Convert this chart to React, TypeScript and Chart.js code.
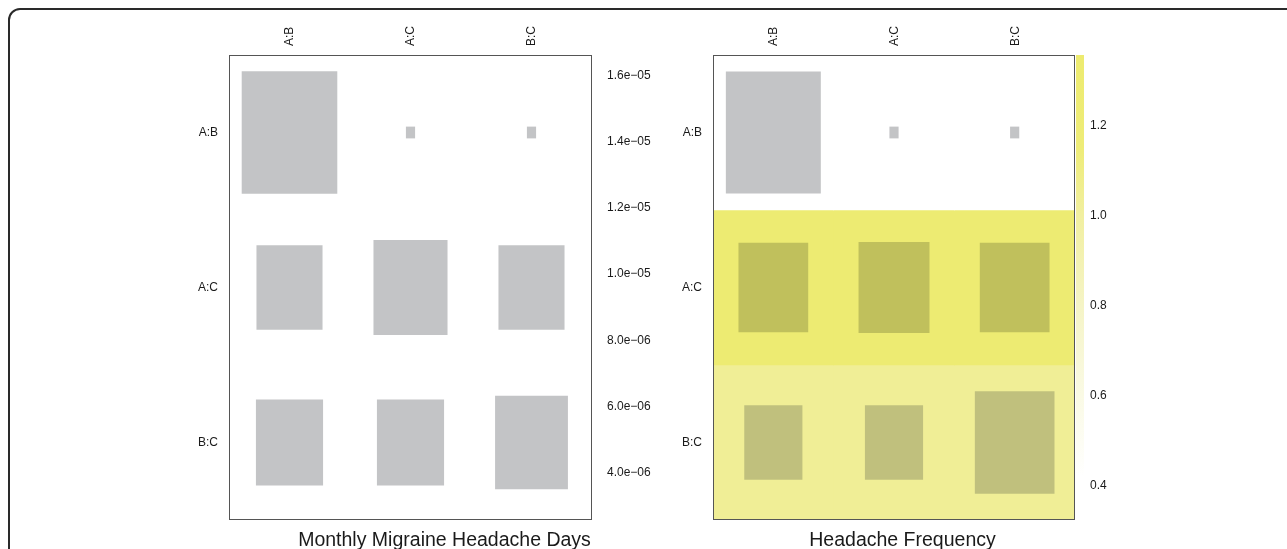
import React, { useEffect, useRef } from 'react';
import { Chart, registerables } from 'chart.js';

Chart.register(...registerables);

// Pairwise comparisons on both axes
const comparisons = ['A:B', 'A:C', 'B:C'];

// Box size per cell, as a fraction of the cell (rows top→bottom, columns left→right)
const mmdBoxSize = [
  [0.79, 0.076, 0.076],
  [0.546, 0.612, 0.546],
  [0.555, 0.555, 0.602],
];
const freqBoxSize = [
  [0.787, 0.076, 0.076],
  [0.578, 0.588, 0.578],
  [0.482, 0.482, 0.66],
];

// Colour-bar scales
const mmdScaleTicks = [4e-6, 6e-6, 8e-6, 1e-5, 1.2e-5, 1.4e-5, 1.6e-5];
const mmdScaleLabels = ['4.0e\u221206', '6.0e\u221206', '8.0e\u221206', '1.0e\u221205', '1.2e\u221205', '1.4e\u221205', '1.6e\u221205'];
const mmdScaleRange = [2.57e-6, 1.662e-5];

const freqScaleTicks = [0.4, 0.6, 0.8, 1.0, 1.2];
const freqScaleLabels = ['0.4', '0.6', '0.8', '1.0', '1.2'];
const freqScaleRange = [0.3235, 1.3565];

// Colour-bar gradient stops (value → colour) for headache frequency
const freqBarStops = [1.3565, 1.15, 1.0, 0.8, 0.6, 0.42];
const freqBarColors = ['#EDEB70', '#EEEC78', '#F1EFA0', '#F5F4C6', '#FAFAE5', '#FFFFFF'];

// Row shading and box fill per row
const mmdBoxFill = ['#C3C4C6', '#C3C4C6', '#C3C4C6'];
const freqRowFill = ['#FFFFFF', '#EDEB72', '#F0EE96'];
const freqBoxFill = ['#C3C4C6', '#C0C05C', '#C0C07D'];

const FONT = "'Liberation Sans', Arial, Helvetica, sans-serif";
const TEXT = '#1a1a1a';
const CANVAS_H = 580;

type PanelOpts = {
  title: string;
  sizes: number[][];
  boxFill: string[];
  rowFill?: string[];
  scaleTicks: number[];
  scaleLabels: string[];
  scaleRange: number[];
  barStops?: number[];
  barColors?: string[];
  yAxisWidth: number;
  scaleWidth: number;
};

function makePanel(canvas: HTMLCanvasElement, o: PanelOpts) {
  const datasets: any[] = [];
  o.sizes.forEach((row, r) =>
    row.forEach((s, c) => {
      datasets.push({
        label: `${comparisons[r]} / ${comparisons[c]}`,
        data: comparisons.map((_, i) => (i === c ? [r + 0.5 - s / 2, r + 0.5 + s / 2] : null)),
        backgroundColor: o.boxFill[r],
        borderWidth: 0,
        barPercentage: s,
        categoryPercentage: 1,
        grouped: false,
        order: 0,
      });
    })
  );
  if (o.rowFill) {
    o.rowFill.forEach((color, r) => {
      datasets.push({
        label: `row ${comparisons[r]}`,
        data: comparisons.map(() => [r, r + 1]),
        backgroundColor: color,
        borderWidth: 0,
        barPercentage: 1,
        categoryPercentage: 1,
        grouped: false,
        order: 1,
      });
    });
  }

  const framePlugin = {
    id: 'panelFrame',
    afterDatasetsDraw(chart: any) {
      const { ctx, chartArea } = chart;
      const { left, top, right, bottom } = chartArea;
      ctx.save();
      ctx.strokeStyle = '#555555';
      ctx.lineWidth = 1;
      ctx.strokeRect(left + 0.5, top + 0.5, right - left - 1, bottom - top - 1);
      ctx.restore();
    },
    afterDraw(chart: any) {
      if (!o.barStops || !o.barColors) return;
      const { ctx, chartArea } = chart;
      const sc = chart.scales.y1;
      const yTop = chartArea.top;
      const yBot = chartArea.bottom;
      const g = ctx.createLinearGradient(0, yTop, 0, yBot);
      o.barStops.forEach((v, i) => {
        const p = (sc.getPixelForValue(v) - yTop) / (yBot - yTop);
        g.addColorStop(Math.min(1, Math.max(0, p)), o.barColors![i]);
      });
      ctx.save();
      ctx.fillStyle = g;
      ctx.fillRect(chartArea.right + 1, yTop, 8, yBot - yTop);
      ctx.restore();
    },
  };

  const tickFont = { family: FONT, size: 12 };

  return new Chart(canvas, {
    type: 'bar',
    data: { labels: comparisons, datasets },
    options: {
      responsive: false,
      animation: false,
      devicePixelRatio: 1,
      layout: { padding: { left: 0, right: 0, top: 0, bottom: CANVAS_H - 520 - (19.5 * 1.2 + 18) } },
      plugins: {
        legend: { display: false },
        tooltip: { enabled: false },
        title: {
          display: true,
          text: o.title,
          position: 'bottom',
          color: TEXT,
          font: { family: FONT, size: 19.5, weight: 'normal', lineHeight: 1.2 },
          padding: { top: 9, bottom: 9 },
        },
      },
      scales: {
        x: {
          type: 'category',
          position: 'top',
          offset: true,
          grid: { display: false, drawTicks: false },
          border: { display: false },
          ticks: {
            minRotation: 90,
            maxRotation: 90,
            autoSkip: false,
            padding: 9,
            labelOffset: 15,
            color: TEXT,
            font: tickFont,
          },
          afterFit: (s: any) => {
            s.height = 55;
          },
        },
        y: {
          type: 'linear',
          position: 'left',
          min: 0,
          max: 3,
          reverse: true,
          grid: { display: false, drawTicks: false },
          border: { display: false },
          afterBuildTicks: (s: any) => {
            s.ticks = comparisons.map((_, i) => ({ value: i + 0.5 }));
          },
          ticks: {
            padding: 11,
            color: TEXT,
            font: tickFont,
            callback: (v: any) => comparisons[Math.round(Number(v) - 0.5)],
          },
          afterFit: (s: any) => {
            s.width = o.yAxisWidth;
          },
        },
        y1: {
          type: 'linear',
          position: 'right',
          min: o.scaleRange[0],
          max: o.scaleRange[1],
          grid: { display: false, drawTicks: false },
          border: { display: false },
          afterBuildTicks: (s: any) => {
            s.ticks = o.scaleTicks.map((v) => ({ value: v }));
          },
          ticks: {
            padding: 15,
            color: TEXT,
            font: tickFont,
            callback: (_v: any, i: number) => o.scaleLabels[i],
          },
          afterFit: (s: any) => {
            s.width = o.scaleWidth;
          },
        },
      },
    } as any,
    plugins: [framePlugin],
  });
}

export default function App() {
  const leftRef = useRef<HTMLCanvasElement>(null);
  const rightRef = useRef<HTMLCanvasElement>(null);

  useEffect(() => {
    const left = makePanel(leftRef.current!, {
      title: 'Monthly Migraine Headache Days',
      sizes: mmdBoxSize,
      boxFill: mmdBoxFill,
      scaleTicks: mmdScaleTicks,
      scaleLabels: mmdScaleLabels,
      scaleRange: mmdScaleRange,
      yAxisWidth: 79,
      scaleWidth: 147,
    });
    const right = makePanel(rightRef.current!, {
      title: 'Headache Frequency',
      sizes: freqBoxSize,
      boxFill: freqBoxFill,
      rowFill: freqRowFill,
      scaleTicks: freqScaleTicks,
      scaleLabels: freqScaleLabels,
      scaleRange: freqScaleRange,
      barStops: freqBarStops,
      barColors: freqBarColors,
      yAxisWidth: 73,
      scaleWidth: 90,
    });
    return () => {
      left.destroy();
      right.destroy();
    };
  }, []);

  return (
    <div
      style={{
        position: 'fixed',
        left: 0,
        top: 0,
        width: 1287,
        height: 549,
        overflow: 'hidden',
        background: '#ffffff',
      }}
    >
      <div
        style={{
          position: 'absolute',
          left: 8,
          top: 8,
          width: 1400,
          height: 700,
          border: '2px solid #2a2a2a',
          borderRadius: 12,
          boxSizing: 'border-box',
        }}
      />
      <canvas ref={leftRef} width={589} height={CANVAS_H} style={{ position: 'absolute', left: 150, top: 0 }} />
      <canvas ref={rightRef} width={525} height={CANVAS_H} style={{ position: 'absolute', left: 640, top: 0 }} />
    </div>
  );
}
